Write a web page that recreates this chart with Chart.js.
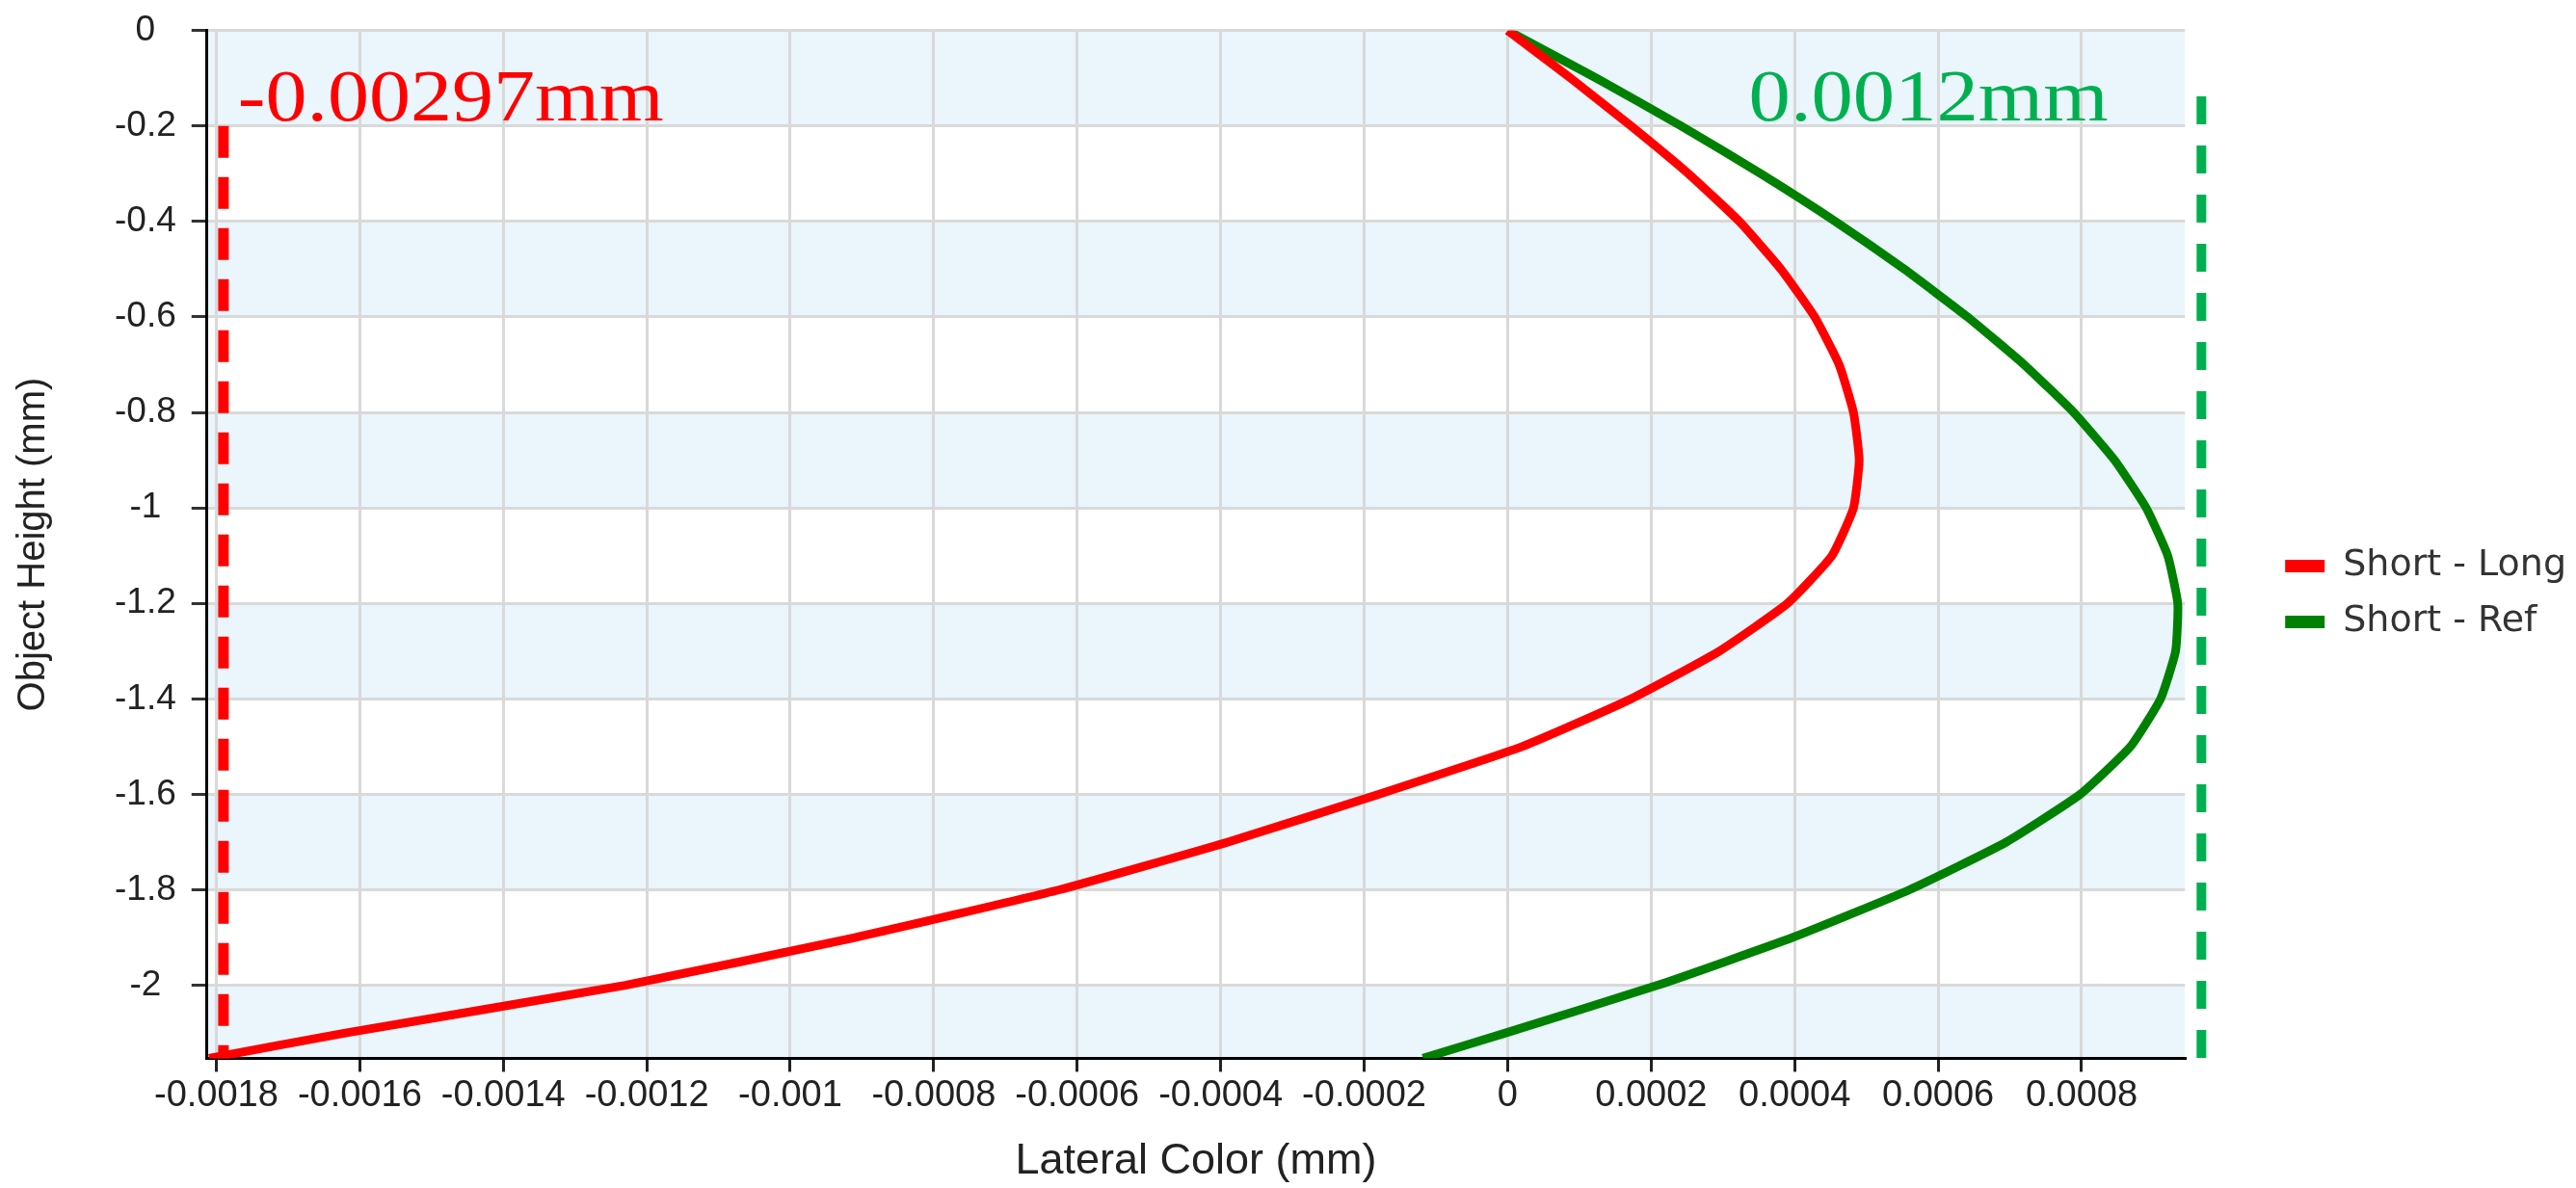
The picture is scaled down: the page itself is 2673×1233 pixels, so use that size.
<!DOCTYPE html>
<html>
<head>
    <title>Lateral Color</title>
    <style>
        body {
            margin: 0;
            padding: 0;
            background-color: #fff;
        }
        canvas {
            display: block;
        }
    </style>
</head>
<body>
    <canvas id="lateralChart" width="2673" height="1233"></canvas>

    <script src="https://cdn.jsdelivr.net/npm/chart.js"></script>
    <script>
        // object height (mm) and lateral colour (mm)
        const objectHeight = [0, -0.1, -0.2, -0.3, -0.4, -0.5, -0.6, -0.7, -0.8, -0.9, -1.0, -1.1,
                              -1.2, -1.3, -1.4, -1.5, -1.6, -1.7, -1.8, -1.9, -2.0, -2.1, -2.153];
        const shortLong = [0, 0.000088, 0.000172, 0.000252, 0.000323, 0.000381, 0.000428, 0.000462,
                           0.000482, 0.000490, 0.000482, 0.000452, 0.000390, 0.000295, 0.000172, 0.000020,
                           -0.000180, -0.000390, -0.000625, -0.000910, -0.001230, -0.001620, -0.001810];
        const shortRef = [0, 0.000124, 0.000242, 0.000353, 0.000457, 0.000553, 0.000641, 0.000720,
                          0.000789, 0.000846, 0.000890, 0.000920, 0.000934, 0.000931, 0.000910, 0.000868,
                          0.000798, 0.000695, 0.000560, 0.000397, 0.000209, -0.000003, -0.000118];
        const seriesNames = ['Short - Long', 'Short - Ref'];

        const xTickValues = [-0.0018, -0.0016, -0.0014, -0.0012, -0.001, -0.0008, -0.0006, -0.0004,
                             -0.0002, 0, 0.0002, 0.0004, 0.0006, 0.0008];
        const yTickValues = [0, -0.2, -0.4, -0.6, -0.8, -1, -1.2, -1.4, -1.6, -1.8, -2];
        const xRange = [-0.001813, 0.000944];
        const yRange = [-2.153, 0];

        // extreme value markers
        const markerLabels = ['-0.00297mm', '0.0012mm'];
        const markerX = [-0.00179, 0.000967];
        const markerTop = [-0.2, -0.138];
        const labelX = [-0.00177, 0.000336];
        const labelY = [-0.188, -0.188];

        const sans = "'Liberation Sans', Arial, sans-serif";

        // alternating light blue rows behind the grid
        const bands = {
            id: 'bands',
            beforeDraw(chart) {
                const {ctx, chartArea: a, scales: {y}} = chart;
                const edges = yTickValues.concat([y.min]);
                ctx.save();
                ctx.fillStyle = '#eaf5fc';
                for (let i = 0; i < edges.length - 1; i += 2) {
                    const top = y.getPixelForValue(edges[i]);
                    const bottom = y.getPixelForValue(edges[i + 1]);
                    ctx.fillRect(a.left, top, a.right - a.left, bottom - top);
                }
                ctx.restore();
            }
        };

        const markers = {
            id: 'markers',
            afterDraw(chart) {
                const {ctx, scales: {x, y}} = chart;
                const colors = ['#ff0000', '#00b050'];
                const dashes = [[33, 20], [29, 22]];
                const widths = [11, 10];
                const textWidths = [442, 373];
                markerX.forEach((v, i) => {
                    const px = x.getPixelForValue(v);
                    ctx.save();
                    ctx.strokeStyle = colors[i];
                    ctx.lineWidth = widths[i];
                    ctx.setLineDash(dashes[i]);
                    ctx.beginPath();
                    ctx.moveTo(px, y.getPixelForValue(markerTop[i]));
                    ctx.lineTo(px, y.getPixelForValue(y.min));
                    ctx.stroke();
                    ctx.restore();

                    ctx.save();
                    ctx.font = "76px 'Liberation Serif', 'Times New Roman', serif";
                    ctx.fillStyle = colors[i];
                    ctx.textBaseline = 'alphabetic';
                    const w = ctx.measureText(markerLabels[i]).width;
                    ctx.translate(x.getPixelForValue(labelX[i]), y.getPixelForValue(labelY[i]));
                    ctx.scale(textWidths[i] / w, 1);
                    ctx.fillText(markerLabels[i], 0, 0);
                    ctx.restore();
                });
            }
        };

        new Chart(document.getElementById('lateralChart'), {
            type: 'scatter',
            data: {
                datasets: [{
                    label: seriesNames[0],
                    data: objectHeight.map((h, i) => ({x: shortLong[i], y: h})),
                    showLine: true,
                    borderColor: '#ff0000',
                    backgroundColor: '#ff0000',
                    borderWidth: 9,
                    borderJoinStyle: 'round',
                    pointRadius: 0,
                    tension: 0.15
                }, {
                    label: seriesNames[1],
                    data: objectHeight.map((h, i) => ({x: shortRef[i], y: h})),
                    showLine: true,
                    borderColor: '#008000',
                    backgroundColor: '#008000',
                    borderWidth: 9,
                    borderJoinStyle: 'round',
                    pointRadius: 0,
                    tension: 0.15
                }]
            },
            options: {
                responsive: false,
                animation: false,
                layout: {padding: {top: 0, right: 0, bottom: 0, left: 0}},
                plugins: {
                    tooltip: {enabled: false},
                    legend: {
                        position: 'right',
                        labels: {
                            boxWidth: 41,
                            boxHeight: 13,
                            padding: 20,
                            color: '#333',
                            font: {family: "'DejaVu Sans', Verdana, sans-serif", size: 38},
                            generateLabels: chart => Chart.defaults.plugins.legend.labels.generateLabels(chart)
                                .map(item => Object.assign(item, {lineWidth: 0}))
                        }
                    }
                },
                scales: {
                    x: {
                        type: 'linear',
                        min: xRange[0],
                        max: xRange[1],
                        afterBuildTicks: s => { s.ticks = xTickValues.map(v => ({value: v})); },
                        ticks: {
                            autoSkip: false,
                            maxRotation: 0,
                            padding: 2,
                            color: '#222',
                            font: {family: sans, size: 38},
                            callback: v => String(+v.toFixed(6))
                        },
                        grid: {color: '#d9d9d9', lineWidth: 3, tickLength: 14, tickColor: '#222', tickWidth: 3},
                        border: {color: '#000', width: 3},
                        title: {
                            display: true,
                            text: 'Lateral Color (mm)',
                            color: '#222',
                            font: {family: sans, size: 45},
                            padding: {top: 17, bottom: 0}
                        }
                    },
                    y: {
                        type: 'linear',
                        min: yRange[0],
                        max: yRange[1],
                        afterBuildTicks: s => { s.ticks = yTickValues.map(v => ({value: v})); },
                        ticks: {
                            crossAlign: 'center',
                            padding: 16,
                            color: '#222',
                            font: {family: sans, size: 37, lineHeight: 0.85},
                            callback: v => String(+v.toFixed(4))
                        },
                        grid: {color: '#d9d9d9', lineWidth: 3, tickLength: 16, tickColor: '#333', tickWidth: 3},
                        border: {color: '#000', width: 3},
                        title: {
                            display: true,
                            text: 'Object Height (mm)',
                            color: '#222',
                            font: {family: sans, size: 40},
                            padding: {top: 11, bottom: 44}
                        }
                    },
                    gap: {
                        type: 'linear',
                        position: 'right',
                        display: true,
                        grid: {display: false, drawTicks: false},
                        border: {display: false},
                        ticks: {display: false},
                        afterFit: s => { s.width = 84; }
                    }
                }
            },
            plugins: [bands, markers]
        });
    </script>
</body>
</html>
